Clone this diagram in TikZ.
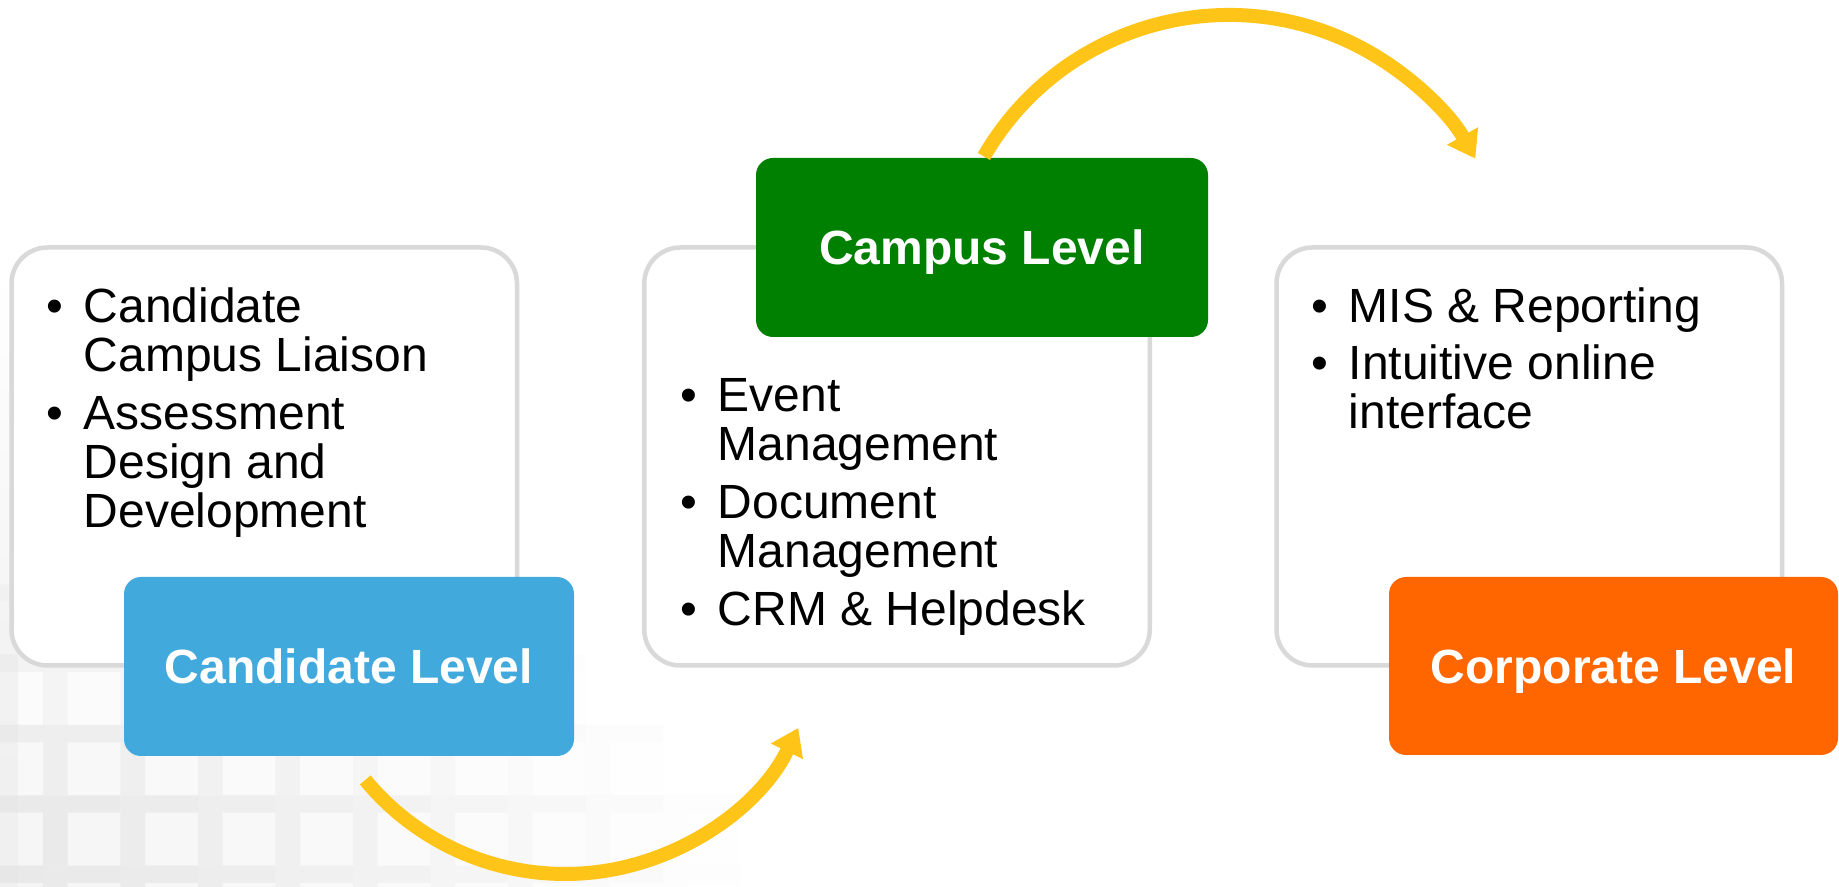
\documentclass[tikz,border=0pt]{standalone}
\usepackage{fontspec}
\setmainfont{Liberation Sans}
\usetikzlibrary{arrows.meta,calc,fadings}
\definecolor{boxline}{HTML}{D9D9D9}
\definecolor{candblue}{HTML}{42A9DC}
\definecolor{campgreen}{HTML}{008000}
\definecolor{corporange}{HTML}{FF6600}
\definecolor{arrowyellow}{HTML}{FFC418}
\definecolor{bggap}{HTML}{E4E4E4}
\definecolor{bgcell}{HTML}{F2F2F2}
\newcommand{\bulitem}[1]{\par\noindent\hangindent=18.5pt\hangafter=1\makebox[18.5pt][l]{•}#1\par}
\newcommand{\bullist}[1]{\parbox[t]{240pt}{\fontsize{24}{24.5}\selectfont\parskip=0pt #1}}
\tikzset{
  wbox/.style={rectangle, draw=boxline, line width=2.25pt, fill=white, rounded corners=18pt,
    minimum width=252.75pt, minimum height=209pt, inner sep=0pt},
  lvl/.style={rectangle, rounded corners=8.5pt, text=white, font=\fontsize{24}{24}\selectfont\bfseries,
    text height=17.2pt, text depth=0pt, inner sep=0pt, minimum width=225pt, minimum height=89.5pt},
  listtext/.style={anchor=base west, inner sep=0pt},
  yarrow/.style={draw=arrowyellow, line width=7pt, -{Triangle[width=17pt,length=13pt]}}
}
\begin{document}
\begin{tikzpicture}[x=0.5pt,y=0.5pt]
\useasboundingbox (0,0) rectangle (1839,887);
\fill[white] (0,0) rectangle (1839,887);
% faint background: left-edge shading and grid (lower left)
\fill[black!7, path fading=north] (0,0) rectangle (18,600);
\foreach \k in {0,...,10}{
  \foreach \m in {-3,...,3}{
    \pgfmathsetmacro{\sx}{-10+77.5*\k}
    \pgfmathsetmacro{\sy}{887-(672+70.3*\m)}
    \pgfmathsetmacro{\op}{0.75*max(0,1-sqrt((\sx/700)^2+((\sy-26)/320)^2))}
    \fill[bgcell, fill opacity=\op] (\sx-24.5,\sy+17.3) rectangle (\sx+53,\sy-53);
    \fill[bggap, fill opacity=\op, even odd rule] (\sx-24.5,\sy+17.3) rectangle (\sx+53,\sy-53)
         (\sx,\sy) rectangle (\sx+53,\sy-53);
  }
}
% white content boxes
\node[wbox] (candBox) at (264.25,430.5) {};
\node[wbox] (campBox) at (897,430.5) {};
\node[wbox] (corpBox) at (1529.25,430.5) {};
% bullet texts
\node[listtext] (candText) at (46.5,564) {\bullist{\bulitem{Candidate\\Campus Liaison}\vspace{4.5pt}\bulitem{Assessment\\Design and\\Development}}};
\node[listtext] (campText) at (680.5,475) {\bullist{\bulitem{Event\\Management}\vspace{4.5pt}\bulitem{Document\\Management}\vspace{4.5pt}\bulitem{CRM \& Helpdesk}}};
\node[listtext] (corpText) at (1311.5,564) {\bullist{\bulitem{MIS \& Reporting}\vspace{4pt}\bulitem{Intuitive online\\interface}}};
% level labels
\node[lvl, fill=candblue] (candLvl) at (349,220.5) {Candidate Level};
\node[lvl, fill=campgreen, minimum width=226pt] (campLvl) at (982,639.5) {Campus Level};
\node[lvl, fill=corporange, minimum width=224.5pt, minimum height=89pt] (corpLvl) at (1613.5,221) {Corporate Level};
% arrows
\coordinate (arcTopC) at (1229,589);
\coordinate (arcTopS) at ($(arcTopC)+(150:283)$);
\coordinate (arcBotC) at (565,272.3);
\coordinate (arcBotS) at ($(arcBotC)+(219.6:259.3)$);
\draw[yarrow] (arcBotS) arc[start angle=219.6, end angle=334.1, radius=259.3];
\draw[yarrow] (arcTopS) arc[start angle=150, end angle=29.5, radius=283];
\end{tikzpicture}
\end{document}
